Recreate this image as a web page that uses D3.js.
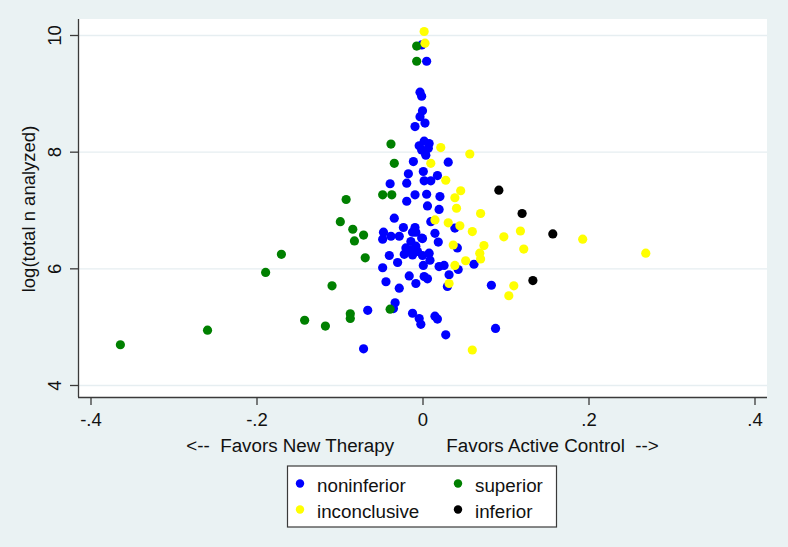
<!DOCTYPE html>
<html>
<head>
<meta charset="utf-8">
<script src="https://cdn.jsdelivr.net/npm/d3@7"></script>
<style>
    body { margin: 0; background: #eaf2f3; }
    svg { display: block; font-family: "Liberation Sans", Arial, sans-serif; }
</style>
</head>
<body>
<script>
// difference (x) vs log(total n analyzed) (y), one list per outcome
let noninferior = [
    [-0.001, 9.83], [0.005, 9.55], [-0.003, 9.02], [-0.001, 8.95], [0.000, 8.70], [-0.003, 8.60],
    [0.003, 8.49], [-0.009, 8.43], [-0.004, 8.10], [0.002, 8.18], [0.008, 8.14], [-0.001, 8.03],
    [0.003, 7.99], [0.007, 8.06], [0.004, 7.94], [0.031, 7.82], [-0.011, 7.83], [-0.017, 7.62],
    [0.001, 7.66], [0.018, 7.59], [0.002, 7.50], [0.010, 7.50], [-0.019, 7.46], [-0.039, 7.45],
    [-0.009, 7.26], [0.005, 7.27], [0.021, 7.23], [-0.019, 7.15], [0.006, 7.07], [0.020, 7.01],
    [-0.034, 6.86], [0.010, 6.80], [0.039, 6.69], [0.015, 6.60], [0.019, 6.45], [-0.001, 6.52],
    [-0.009, 6.70], [-0.012, 6.62], [-0.023, 6.70], [-0.047, 6.62], [-0.048, 6.50], [-0.038, 6.55],
    [-0.028, 6.55], [-0.015, 6.31], [-0.022, 6.24], [-0.008, 6.38], [-0.006, 6.29], [0.000, 6.22],
    [0.008, 6.26], [0.009, 6.14], [0.001, 6.05], [-0.030, 6.10], [-0.040, 6.22], [-0.048, 6.01],
    [0.020, 6.03], [0.026, 6.05], [0.032, 5.89], [-0.016, 5.87], [0.002, 5.86], [0.006, 5.82],
    [-0.008, 5.74], [0.030, 5.69], [0.042, 6.35], [0.062, 6.07], [0.043, 5.98], [0.083, 5.71],
    [0.088, 4.97], [-0.044, 5.77], [-0.028, 5.66], [-0.033, 5.41], [-0.035, 5.31], [-0.066, 5.28],
    [-0.071, 4.62], [-0.012, 5.23], [-0.004, 5.14], [-0.002, 5.04], [0.015, 5.18], [0.018, 5.13],
    [0.028, 4.86], [-0.014, 6.46], [-0.020, 6.35], [-0.012, 6.23], [-0.008, 6.62], [0.000, 6.51]
];
let superior = [
    [-0.007, 9.81], [-0.007, 9.55], [-0.038, 8.13], [-0.034, 7.80], [-0.048, 7.26], [-0.037, 7.26],
    [-0.092, 7.18], [-0.099, 6.80], [-0.084, 6.67], [-0.071, 6.57], [-0.082, 6.47], [-0.069, 6.18],
    [-0.170, 6.24], [-0.189, 5.93], [-0.109, 5.70], [-0.364, 4.69], [-0.259, 4.94], [-0.142, 5.11],
    [-0.117, 5.01], [-0.087, 5.22], [-0.087, 5.14], [-0.039, 5.30]
];
let inconclusive = [
    [0.002, 10.06], [0.003, 9.86], [0.022, 8.07], [0.057, 7.96], [0.010, 7.80], [0.028, 7.51],
    [0.046, 7.33], [0.039, 7.21], [0.041, 7.03], [0.070, 6.94], [0.193, 6.50], [0.269, 6.26],
    [0.118, 6.64], [0.098, 6.54], [0.122, 6.33], [0.060, 6.63], [0.074, 6.39], [0.069, 6.26],
    [0.070, 6.16], [0.052, 6.13], [0.039, 6.05], [0.037, 6.40], [0.045, 6.73], [0.031, 6.78],
    [0.015, 6.83], [0.032, 5.74], [0.060, 4.60], [0.110, 5.70], [0.104, 5.53]
];
let inferior = [
    [0.092, 7.34], [0.120, 6.94], [0.157, 6.59], [0.133, 5.79]
];

let xTicks = [-0.4, -0.2, 0, 0.2, 0.4];
let xTickLabels = ["-.4", "-.2", "0", ".2", ".4"];
let yTicks = [4, 6, 8, 10];

let groups = [
    {name: "noninferior", color: "#0000ff", pts: noninferior},
    {name: "superior", color: "#008000", pts: superior},
    {name: "inconclusive", color: "#ffff00", pts: inconclusive},
    {name: "inferior", color: "#000000", pts: inferior}
];

let width = 788, height = 547;
let svg = d3.select("body").append("svg").attr("width", width).attr("height", height);

svg.append("rect").attr("width", width).attr("height", height).attr("fill", "#eaf2f3");

let plot = {left: 78, right: 767, top: 19, bottom: 397};
svg.append("rect")
    .attr("x", plot.left).attr("y", plot.top)
    .attr("width", plot.right - plot.left).attr("height", plot.bottom - plot.top)
    .attr("fill", "#fff");

let x = d3.scaleLinear().domain([-0.4, 0.4]).range([90.5, 754.5]);
let y = d3.scaleLinear().domain([4, 10]).range([385, 35]);

// grid
svg.append("g").selectAll("line").data(yTicks).join("line")
    .attr("x1", plot.left).attr("x2", plot.right)
    .attr("y1", d => y(d) + 0.5).attr("y2", d => y(d) + 0.5)
    .attr("stroke", "#e6eef1").attr("stroke-width", 1.3);

// axes
let yAxis = svg.append("g")
    .attr("transform", `translate(${plot.left},0)`)
    .call(d3.axisLeft(y).tickValues(yTicks).tickSize(8).tickPadding(10).tickFormat(d3.format("d")));
yAxis.select(".domain").attr("d", `M0.5,${plot.top}V${plot.bottom}`);
yAxis.selectAll(".tick text")
    .attr("transform", "rotate(-90)")
    .attr("x", 0).attr("y", -17).attr("dy", 0)
    .attr("text-anchor", "middle");

let xAxis = svg.append("g")
    .attr("transform", `translate(0,${plot.bottom})`)
    .call(d3.axisBottom(x).tickValues(xTicks).tickSize(8).tickPadding(0)
        .tickFormat((d, i) => xTickLabels[i]));
xAxis.select(".domain").attr("d", `M${plot.left},0.5H${plot.right}`);
xAxis.selectAll(".tick text").attr("y", 29).attr("dy", 0);

svg.selectAll(".domain, .tick line").attr("stroke", "#3a3a3a").attr("stroke-width", 1.3);
svg.selectAll(".tick text").attr("font-size", 18.5).attr("fill", "#111")
    .attr("font-family", "\"Liberation Sans\", Arial, sans-serif");

// titles
svg.append("text")
    .attr("x", (plot.left + plot.right) / 2).attr("y", 452)
    .attr("text-anchor", "middle").attr("font-size", 18.8).attr("fill", "#111")
    .attr("xml:space", "preserve").style("white-space", "pre")
    .text("<--  Favors New Therapy          Favors Active Control  -->");

svg.append("text")
    .attr("transform", `translate(35,209) rotate(-90)`)
    .attr("text-anchor", "middle").attr("font-size", 18.5).attr("fill", "#111")
    .text("log(total n analyzed)");

// points
let marks = svg.append("g");
groups.forEach(g => {
    marks.append("g").selectAll("circle").data(g.pts).join("circle")
        .attr("cx", d => x(d[0])).attr("cy", d => y(d[1]))
        .attr("r", 4.6).attr("fill", g.color);
});

// legend
let legend = svg.append("g");
legend.append("rect")
    .attr("x", 287.5).attr("y", 466).attr("width", 269).attr("height", 61)
    .attr("fill", "#fff").attr("stroke", "#3a3a3a").attr("stroke-width", 1.2);
let legendPos = [[300, 483.5], [458, 483.5], [300, 509.5], [458, 509.5]];
groups.forEach((g, i) => {
    let [lx, ly] = legendPos[i];
    legend.append("circle").attr("cx", lx).attr("cy", ly).attr("r", 4.2).attr("fill", g.color);
    legend.append("text").attr("x", lx + 17).attr("y", ly + 8)
        .attr("font-size", 18.8).attr("fill", "#111").text(g.name);
});
</script>
</body>
</html>
